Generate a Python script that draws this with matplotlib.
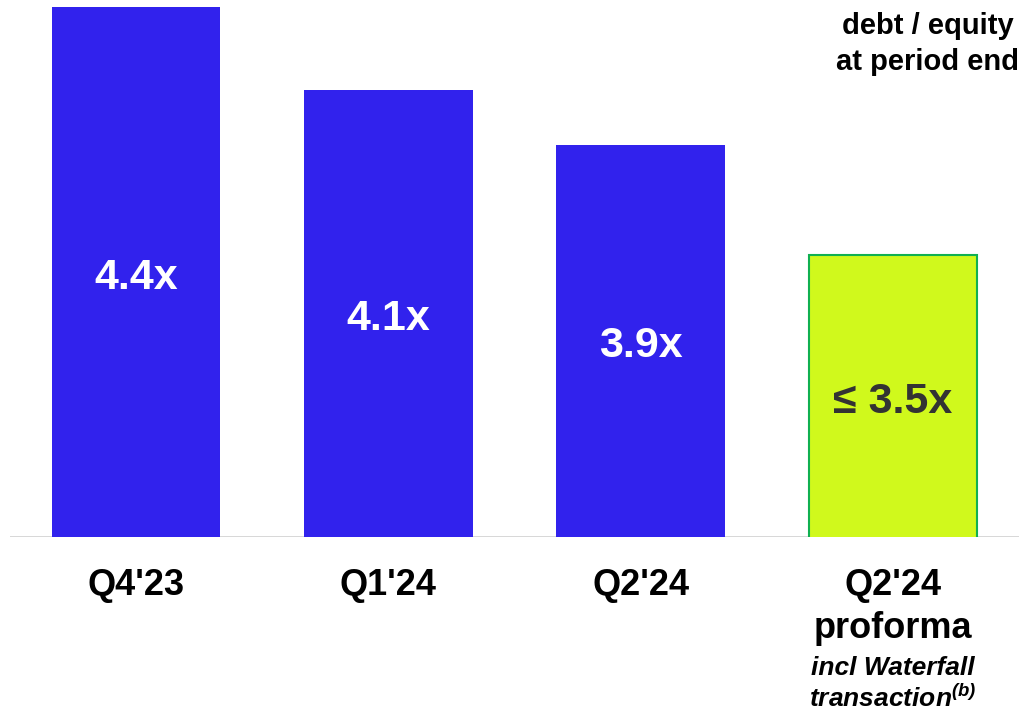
import matplotlib
matplotlib.use("Agg")
import matplotlib.pyplot as plt

categories = ["Q4'23", "Q1'24", "Q2'24", "Q2'24\nproforma"]
values = [4.4, 4.1, 3.9, 3.5]
value_labels = ["4.4x", "4.1x", "3.9x", "\u2264 3.5x"]
note = "incl Waterfall\ntransaction$^{(b)}$"
title = "debt / equity\nat period end"

plt.rcParams['font.family'] = ['Liberation Sans', 'DejaVu Sans']
plt.rcParams['mathtext.fontset'] = 'custom'
plt.rcParams['mathtext.rm'] = 'Liberation Sans:italic:bold'
plt.rcParams['mathtext.it'] = 'Liberation Sans:italic:bold'

W, H = 1019, 712
fig = plt.figure(figsize=(W / 100, H / 100), dpi=100)
ax = fig.add_axes([10 / W, (H - 537) / H, (W - 10) / W, (537 - 7) / H])

blue = "#3122ED"
lime = "#D0F91C"
colors = [blue, blue, blue, lime]
edges = [blue, blue, blue, "#10B050"]
x = list(range(len(categories)))
ax.bar(x, values, width=0.667, color=colors, edgecolor=edges,
       linewidth=[0, 0, 0, 1.5], zorder=2)

ymin = 2.477
ax.set_ylim(ymin, 4.4)
ax.set_xlim(-0.5, 3.5)

for i, (v, lab) in enumerate(zip(values, value_labels)):
    col = "white" if i < 3 else "#333333"
    ax.annotate(lab, xy=(i, (v + ymin) / 2), xytext=(0, -4),
                textcoords="offset points", ha="center", va="center",
                fontsize=31, fontweight="bold", color=col, zorder=3)

ax.axhline(ymin, color="#d4d4d4", linewidth=2, zorder=1)

for s in ax.spines.values():
    s.set_visible(False)
ax.set_yticks([])
ax.set_xticks([])

for i, c in enumerate(categories):
    ax.annotate(c, xy=(i, 0), xycoords=ax.get_xaxis_transform(),
                xytext=(0, -22), textcoords="offset points",
                ha="center", va="top", fontsize=26, fontweight="bold",
                linespacing=1.3, annotation_clip=False)

ax.annotate(note, xy=(3, 0), xycoords=ax.get_xaxis_transform(),
            xytext=(0, -86), textcoords="offset points",
            ha="center", va="top", fontsize=19, fontweight="bold",
            fontstyle="italic", linespacing=1.2, annotation_clip=False)

fig.text(928 / W, 1 - 12 / H, title, ha="center", va="top",
         fontsize=21, fontweight="bold", linespacing=1.35,
         multialignment="center")

fig.savefig("out.png", dpi=100)
